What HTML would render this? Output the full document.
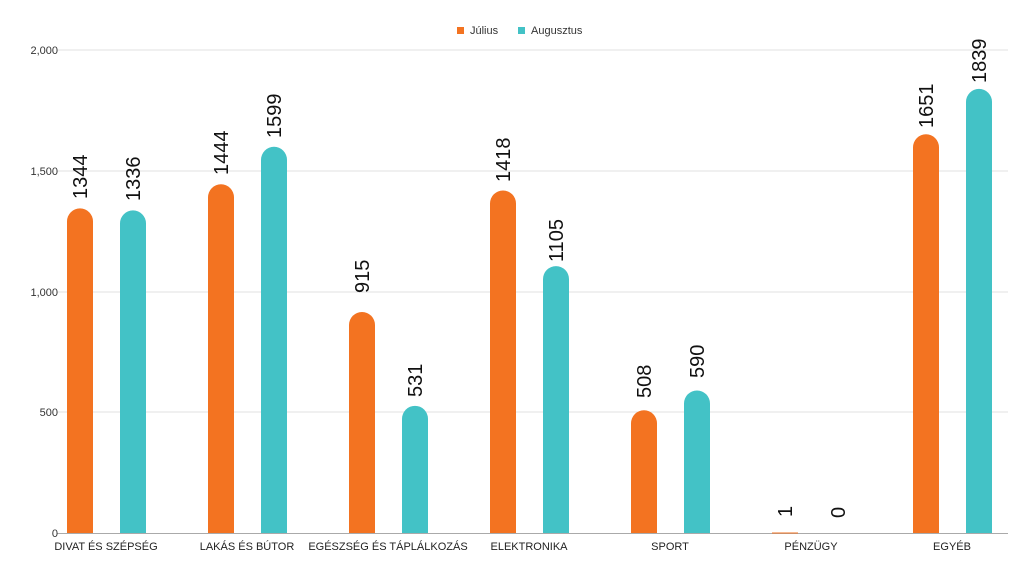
<!DOCTYPE html>
<html><head><meta charset="utf-8"><style>body{margin:0;background:#fff}svg{display:block;font-family:"Liberation Sans",sans-serif}</style></head><body>
<svg width="1024" height="576" viewBox="0 0 1024 576" xmlns="http://www.w3.org/2000/svg">
<g stroke="#e2e2e2" stroke-width="1">
<line x1="57" y1="50" x2="1008" y2="50"/><line x1="57" y1="171" x2="1008" y2="171"/><line x1="57" y1="292" x2="1008" y2="292"/><line x1="57" y1="412" x2="1008" y2="412"/>
</g>
<line x1="57" y1="533.5" x2="1008" y2="533.5" stroke="#aaa" stroke-width="1"/>
<g font-size="11" fill="#333" text-anchor="end">
<text x="58" y="54">2,000</text><text x="58" y="175">1,500</text><text x="58" y="296">1,000</text><text x="58" y="416">500</text><text x="58" y="537">0</text>
</g>
<rect x="457" y="27" width="7" height="7" fill="#f37321"/><text x="470" y="34" font-size="11" fill="#333">Július</text>
<rect x="518" y="27" width="7" height="7" fill="#43c2c6"/><text x="531" y="34" font-size="11" fill="#333">Augusztus</text>
<g font-size="11" fill="#222" text-anchor="middle">
<text x="106" y="550">DIVAT ÉS SZÉPSÉG</text><text x="247" y="550">LAKÁS ÉS BÚTOR</text><text x="388" y="550">EGÉSZSÉG ÉS TÁPLÁLKOZÁS</text><text x="529" y="550">ELEKTRONIKA</text><text x="670" y="550">SPORT</text><text x="811" y="550">PÉNZÜGY</text><text x="952" y="550">EGYÉB</text>
</g>
<g font-size="20" fill="#111">
<text transform="translate(87,199) rotate(-90)">1344</text>
<text transform="translate(140,201) rotate(-90)">1336</text>
<text transform="translate(228,175) rotate(-90)">1444</text>
<text transform="translate(281,138) rotate(-90)">1599</text>
<text transform="translate(369,293) rotate(-90)">915</text>
<text transform="translate(422,397) rotate(-90)">531</text>
<text transform="translate(510,182) rotate(-90)">1418</text>
<text transform="translate(563,262) rotate(-90)">1105</text>
<text transform="translate(651,398) rotate(-90)">508</text>
<text transform="translate(704,378) rotate(-90)">590</text>
<text transform="translate(792,517) rotate(-90)">1</text>
<text transform="translate(845,518) rotate(-90)">0</text>
<text transform="translate(933,128) rotate(-90)">1651</text>
<text transform="translate(986,83) rotate(-90)">1839</text>
</g>
<g>
<path d="M67,533V221.4a13,13 0 0 1 26,0V533Z" fill="#f37321"/>
<path d="M120,533V223.4a13,13 0 0 1 26,0V533Z" fill="#43c2c6"/>
<path d="M208,533V197.3a13,13 0 0 1 26,0V533Z" fill="#f37321"/>
<path d="M261,533V159.8a13,13 0 0 1 26,0V533Z" fill="#43c2c6"/>
<path d="M349,533V325.0a13,13 0 0 1 26,0V533Z" fill="#f37321"/>
<path d="M402,533V418.8a13,13 0 0 1 26,0V533Z" fill="#43c2c6"/>
<path d="M490,533V203.5a13,13 0 0 1 26,0V533Z" fill="#f37321"/>
<path d="M543,533V279.1a13,13 0 0 1 26,0V533Z" fill="#43c2c6"/>
<path d="M631,533V423.3a13,13 0 0 1 26,0V533Z" fill="#f37321"/>
<path d="M684,533V403.5a13,13 0 0 1 26,0V533Z" fill="#43c2c6"/>
<rect x="772" y="532.5" width="26" height="1" fill="#f37321"/>
<path d="M913,533V147.3a13,13 0 0 1 26,0V533Z" fill="#f37321"/>
<path d="M966,533V101.9a13,13 0 0 1 26,0V533Z" fill="#43c2c6"/>
</g>
</svg>
</body></html>
